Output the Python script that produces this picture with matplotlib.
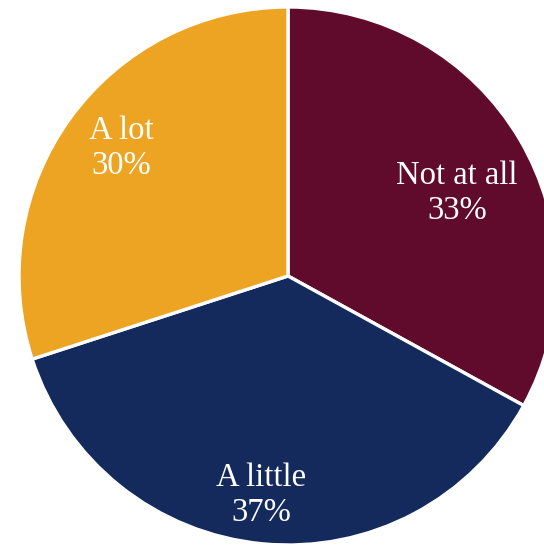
import numpy as np
import matplotlib.pyplot as plt

labels = ["Not at all", "A little", "A lot"]
shares = [33, 37, 30]
colors = ["#600B2C", "#142A5D", "#EDA423"]

# label placement: fraction of radius and a small angular nudge (degrees)
label_dist = [0.70, 0.82, 0.78]
label_nudge = [-4.4, -1.6, -1.5]

plt.rcParams['font.family'] = ['Liberation Serif', 'DejaVu Serif']

fig = plt.figure(figsize=(5.44, 5.45), dpi=100)
# pie centre at (288, 276) px, radius 269 px; it runs off the right edge
ax = fig.add_axes([19 / 544, 0, 538 / 544, 538 / 545])

wedges, _ = ax.pie(shares, colors=colors, startangle=90, counterclock=False,
                   radius=1, wedgeprops=dict(edgecolor='white', linewidth=2.4))

for w, lab, val, d, nudge in zip(wedges, labels, shares, label_dist, label_nudge):
    mid = np.deg2rad((w.theta1 + w.theta2) / 2 + nudge)
    ax.text(d * np.cos(mid), d * np.sin(mid), f"{lab}\n{val}%",
            ha='center', va='center', color='white', fontsize=23.5,
            linespacing=1.2)

ax.set_xlim(-1, 1)
ax.set_ylim(-1, 1)
ax.set_aspect('equal')
ax.axis('off')

fig.savefig("out.png", dpi=100)
